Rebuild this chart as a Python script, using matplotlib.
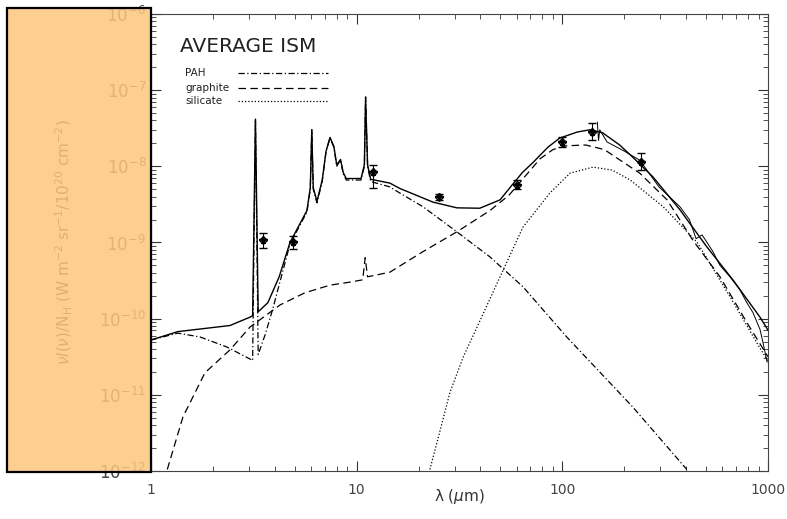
import matplotlib.pyplot as plt
import numpy as np
from matplotlib.patches import Rectangle
from matplotlib.ticker import LogLocator, NullFormatter, FixedLocator, FixedFormatter

# wavelength in micron, flux as log10( nu I(nu)/N_H )
tot_lam = [1.0, 1.35, 2.42, 3.03, 3.12, 3.22, 3.32, 3.7, 4.2, 4.74, 5.73, 5.95, 6.05, 6.15,
           6.41, 6.8, 7.1, 7.42, 7.75, 8.0, 8.2, 8.35, 8.6, 8.9, 10.5, 10.9, 11.05, 11.3,
           11.7, 14.5, 16.2, 23.5, 30.7, 39.7, 49.8, 56, 64, 72, 85, 97, 118, 136, 157,
           190, 220, 276, 373, 505, 675, 914, 1000]
tot_logf = [-10.28, -10.17, -10.09, -9.98, -9.96, -7.38, -9.91, -9.79, -9.45, -9.0, -8.58,
            -8.28, -7.52, -8.28, -8.46, -8.18, -7.8, -7.62, -7.74, -7.98, -7.94, -7.91,
            -8.08, -8.16, -8.16, -7.98, -7.09, -7.98, -8.17, -8.22, -8.29, -8.47, -8.545,
            -8.55, -8.44, -8.27, -8.08, -7.95, -7.75, -7.63, -7.55, -7.52, -7.56, -7.72,
            -7.88, -8.14, -8.57, -9.06, -9.49, -9.98, -10.15]

pah_lam = [1.0, 1.35, 1.73, 2.33, 3.03, 3.12, 3.22, 3.32, 3.6, 3.92, 4.74, 5.73, 5.95, 6.05,
           6.15, 6.41, 6.8, 7.1, 7.42, 7.75, 8.0, 8.2, 8.35, 8.6, 8.9, 10.5, 10.9, 11.05,
           11.3, 11.7, 14.5, 16.2, 21, 30.7, 44.5, 64.3, 105, 220, 403]
pah_logf = [-10.28, -10.19, -10.24, -10.37, -10.53, -10.55, -7.38, -10.47, -10.2, -9.86,
            -9.02, -8.60, -8.3, -7.52, -8.3, -8.48, -8.2, -7.8, -7.63, -7.75, -8.0, -7.95,
            -7.92, -8.1, -8.18, -8.18, -8.0, -7.09, -8.0, -8.2, -8.27, -8.35, -8.53, -8.86,
            -9.19, -9.58, -10.24, -11.16, -11.98]

gra_lam = [1.2, 1.43, 1.83, 2.42, 3.03, 4.24, 5.6, 7.42, 9.28, 10.7, 11.0, 11.3, 14.5, 21,
           30.7, 44.5, 55, 65, 78, 90, 105, 130, 160, 184, 238, 323, 431, 584, 789, 1000]
gra_logf = [-11.98, -11.29, -10.71, -10.41, -10.11, -9.82, -9.66, -9.56, -9.52, -9.49,
            -9.2, -9.45, -9.39, -9.12, -8.86, -8.58, -8.38, -8.15, -7.90, -7.78, -7.73,
            -7.72, -7.78, -7.89, -8.09, -8.44, -8.97, -9.45, -10.05, -10.50]

sil_lam = [22.7, 25, 28.4, 33, 38.5, 49.8, 64.3, 87, 109, 141, 175, 214, 309, 453, 653,
           884, 1000]
sil_logf = [-11.98, -11.55, -10.97, -10.5, -10.11, -9.45, -8.80, -8.35, -8.09, -8.01,
            -8.05, -8.18, -8.53, -9.0, -9.71, -10.32, -10.56]

# far-IR spectrum (thin wiggly line)
fir_lam = [148, 150, 152, 165, 200, 238, 295, 373, 415, 447, 478, 540, 584, 653, 730,
           789, 845, 914, 945, 990]
fir_logf = [-7.42, -7.66, -7.52, -7.68, -7.80, -7.92, -8.27, -8.53, -8.70, -8.95, -8.90,
            -9.12, -9.30, -9.45, -9.62, -9.79, -9.92, -10.14, -10.31, -10.57]

# photometry with error bars (dex)
obs_lam = [3.5, 4.9, 12, 25, 60, 100, 140, 240]
obs_logf = [-8.97, -9.0, -8.07, -8.40, -8.24, -7.68, -7.55, -7.94]
obs_lo = [0.1, 0.08, 0.21, 0.04, 0.06, 0.07, 0.10, 0.11]
obs_hi = [0.1, 0.08, 0.09, 0.04, 0.06, 0.07, 0.12, 0.11]

pah_ls = (0, (5, 2, 1, 2))
gra_ls = (0, (6, 3.5))
sil_ls = (0, (1, 1.6))

fig = plt.figure(figsize=(7.87, 5.19), dpi=100)
ax = fig.add_axes([151/787, 48/519, 617/787, 457/519])

ax.plot(tot_lam, 10**np.array(tot_logf), color='k', lw=1.0)
ax.plot(pah_lam, 10**np.array(pah_logf), color='k', lw=0.9, ls=pah_ls)
ax.plot(gra_lam, 10**np.array(gra_logf), color='k', lw=0.9, ls=gra_ls)
ax.plot(sil_lam, 10**np.array(sil_logf), color='k', lw=0.9, ls=sil_ls)
ax.plot(fir_lam, 10**np.array(fir_logf), color='k', lw=0.7)

of = np.array(obs_logf)
y = 10**of
yerr = [y - 10**(of - np.array(obs_lo)), 10**(of + np.array(obs_hi)) - y]
ax.errorbar(obs_lam, y, yerr=yerr, fmt='none', ecolor='k', elinewidth=0.8, capsize=3)
ax.plot(obs_lam, y, ls='none', marker='D', ms=4, mfc='none', mec='k', mew=0.9)
ax.plot(obs_lam, y, ls='none', marker='*', ms=5.5, color='k')

ax.set_xscale('log')
ax.set_yscale('log')
ax.set_xlim(1, 1000)
ax.set_ylim(1e-12, 1e-6)

ax.yaxis.set_major_locator(LogLocator(base=10, numticks=20))
ax.yaxis.set_minor_locator(LogLocator(base=10, subs=np.arange(2, 10), numticks=100))
ax.yaxis.set_minor_formatter(NullFormatter())
ax.xaxis.set_major_locator(FixedLocator([1, 10, 100, 1000]))
ax.xaxis.set_major_formatter(FixedFormatter(['1', '10', '100', '1000']))
ax.xaxis.set_minor_locator(LogLocator(base=10, subs=np.arange(2, 10), numticks=100))
ax.xaxis.set_minor_formatter(NullFormatter())

ax.tick_params(which='both', direction='in', top=True, right=True, color='#333')
ax.tick_params(which='major', length=7, width=0.8, labelsize=12, labelcolor='#444')
ax.tick_params(which='minor', length=3.5, width=0.6)
ax.tick_params(axis='x', pad=9, labelsize=10)
for s in ax.spines.values():
    s.set_linewidth(0.8)
    s.set_color('#444')

ax.set_xlabel('λ ($\\mu$m)', fontsize=11, color='#333')
ax.xaxis.set_label_coords(0.5, -0.036)
ax.set_ylabel(r'$\nu I(\nu)/{\rm N_H}$ (W m$^{-2}$ sr$^{-1}$/10$^{20}$ cm$^{-2}$)',
              fontsize=11, color='#333')
ax.yaxis.set_label_coords(-0.123, 0.5)

ax.text(0.047, 0.928, 'AVERAGE ISM', transform=ax.transAxes, fontsize=14.5,
        va='center', ha='left', color='#222')
leg = [('PAH', 0.871, pah_ls), ('graphite', 0.839, gra_ls), ('silicate', 0.810, sil_ls)]
for name, yy, ls in leg:
    ax.text(0.055, yy, name, transform=ax.transAxes, fontsize=7.5, va='center', color='#222')
    ax.plot([0.141, 0.287], [yy, yy], transform=ax.transAxes, color='k', lw=0.9, ls=ls)

fig.add_artist(Rectangle((7/787, 47/519), 144/787, 464/519, transform=fig.transFigure,
                         facecolor=(0.99, 0.78, 0.49, 0.85), edgecolor='black',
                         lw=1.6, zorder=10))

fig.savefig('out.png', dpi=100)
